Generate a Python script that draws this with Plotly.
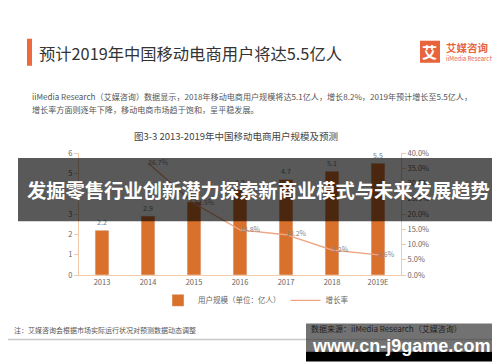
import plotly.graph_objects as go

years = ["2013", "2014", "2015", "2016", "2017", "2018", "2019E"]
users = [2.2, 2.9, 3.6, 4.2, 4.7, 5.1, 5.5]
growth_years = ["2014", "2015", "2016", "2017", "2018", "2019E"]
growth = [36.7, 23.5, 14.8, 13.2, 8.2, 6.6]
growth_labels = ["36.7%", "23.5%", "14.8%", "13.2%", "8.2%", "6.6%"]

FONT = "Noto Sans CJK SC"
BAR = "#d9712c"
LINE = "#eea582"
AX = "#f3c9a8"

W, H = 500, 362
L, R, T, B = 71, 393, 145, 266.7
PW, PH = R - L, B - T


def X(px):
    return (px - L) / PW


def Y(py):
    return (B - py) / PH


fig = go.Figure()
fig.add_trace(go.Bar(
    x=years, y=users, name="用户规模（单位：亿人）", marker_color=BAR,
    text=[f"{v}" for v in users], textposition="outside", cliponaxis=False,
    textfont=dict(size=7, color="#777", family=FONT), yaxis="y"))
fig.add_trace(go.Scatter(
    x=growth_years, y=growth, name="增长率", mode="lines+text",
    line=dict(color=LINE, width=1.3), text=growth_labels,
    textposition="middle right", cliponaxis=False,
    textfont=dict(size=7, color="#888", family=FONT), yaxis="y2"))

shapes = []
annotations = []

# title accent bar
shapes.append(dict(type="rect", xref="paper", yref="paper", x0=X(19), x1=X(24), y0=Y(31), y1=Y(58),
                   fillcolor="#ec6a3c", line_width=0, layer="above"))
annotations.append(dict(xref="paper", yref="paper", x=X(29), y=Y(45), xanchor="left", yanchor="middle",
                        text="预计2019年中国移动电商用户将达5.5亿人", showarrow=False,
                        font=dict(size=16.3, color="#333", family=FONT)))
# logo
shapes.append(dict(type="rect", xref="paper", yref="paper", x0=X(412), x1=X(432), y0=Y(33), y1=Y(55),
                   fillcolor="#e8643c", line_width=0, layer="above"))
annotations.append(dict(xref="paper", yref="paper", x=X(422), y=Y(44), xanchor="center", yanchor="middle",
                        text="<b>艾</b>", showarrow=False, font=dict(size=15, color="white", family=FONT)))
annotations.append(dict(xref="paper", yref="paper", x=X(436), y=Y(40), xanchor="left", yanchor="middle",
                        text="<b>艾媒咨询</b>", showarrow=False, font=dict(size=10.5, color="#e8643c", family=FONT)))
annotations.append(dict(xref="paper", yref="paper", x=X(436), y=Y(51), xanchor="left", yanchor="middle",
                        text="iiMedia Research", showarrow=False, font=dict(size=6, color="#e8643c", family=FONT)))
# paragraph
annotations.append(dict(xref="paper", yref="paper", x=X(22), y=Y(89), xanchor="left", yanchor="middle",
                        text="iiMedia Research（艾媒咨询）数据显示，2018年移动电商用户规模将达5.1亿人，增长8.2%，2019年预计增长至5.5亿人，",
                        showarrow=False, font=dict(size=8.1, color="#555", family=FONT)))
annotations.append(dict(xref="paper", yref="paper", x=X(22), y=Y(101.5), xanchor="left", yanchor="middle",
                        text="增长率方面则逐年下降，移动电商市场趋于饱和，呈平稳发展。",
                        showarrow=False, font=dict(size=8.1, color="#555", family=FONT)))
# chart title
annotations.append(dict(xref="paper", yref="paper", x=X(228), y=Y(128), xanchor="center", yanchor="middle",
                        text="图3-3 2013-2019年中国移动电商用户规模及预测",
                        showarrow=False, font=dict(size=9.5, color="#444", family=FONT)))
# note
annotations.append(dict(xref="paper", yref="paper", x=X(4), y=Y(322), xanchor="left", yanchor="middle",
                        text="注：艾媒咨询会根据市场实际运行状况对预测数据动态调整",
                        showarrow=False, font=dict(size=7, color="#555", family=FONT)))
# separator line
shapes.append(dict(type="line", xref="paper", yref="paper", x0=X(0), x1=X(500), y0=Y(331), y1=Y(331),
                   line=dict(color="#c8c8c8", width=1.5), layer="above"))
annotations.append(dict(xref="paper", yref="paper", x=X(494), y=Y(337), xanchor="right", yanchor="middle",
                        text="h Inc", showarrow=False, font=dict(size=5.5, color="#999", family=FONT)))
# banner
shapes.append(dict(type="rect", xref="paper", yref="paper", x0=X(10), x1=X(491), y0=Y(150), y1=Y(213),
                   fillcolor="rgba(0,0,0,0.65)", line_width=0, layer="above"))
annotations.append(dict(xref="paper", yref="paper", x=X(250.5), y=Y(182), xanchor="center", yanchor="middle",
                        text="<b>发掘零售行业创新潜力探索新商业模式与未来发展趋势</b>",
                        showarrow=False, font=dict(size=19.3, color="white", family=FONT)))
# watermark box
shapes.append(dict(type="rect", xref="paper", yref="paper", x0=X(298), x1=X(491), y0=Y(315), y1=Y(343),
                   fillcolor="rgba(60,60,60,0.72)", line_width=0, layer="above"))
shapes.append(dict(type="rect", xref="paper", yref="paper", x0=X(298), x1=X(491), y0=Y(343), y1=Y(353),
                   fillcolor="black", line_width=0, layer="above"))
annotations.append(dict(xref="paper", yref="paper", x=X(301), y=Y(320), xanchor="left", yanchor="middle",
                        text="数据来源：iiMedia Research（艾媒咨询）",
                        showarrow=False, font=dict(size=8, color="#222", family=FONT)))
annotations.append(dict(xref="paper", yref="paper", x=X(393), y=Y(338), xanchor="center", yanchor="middle",
                        text="<b>www.cn-j9game.com</b>",
                        showarrow=False, font=dict(size=18, color="white", family="Liberation Sans")))

fig.update_layout(
    width=W, height=H, margin=dict(l=L, r=W - R, t=T, b=H - B, pad=0),
    paper_bgcolor="white", plot_bgcolor="white",
    bargap=0.7, showlegend=True,
    legend=dict(orientation="h", x=X(150), y=Y(292), xanchor="left", yanchor="middle",
                font=dict(size=7.5, color="#666", family=FONT), itemwidth=30, tracegroupgap=0,
                bgcolor="rgba(0,0,0,0)"),
    xaxis=dict(type="category", showline=True, linecolor=AX, linewidth=1, ticks="",
               tickfont=dict(size=7.5, color="#666", family=FONT), showgrid=False),
    yaxis=dict(range=[0, 6], dtick=1, showline=True, linecolor=AX, linewidth=1, ticks="outside",
               ticklen=4, tickcolor=AX, showgrid=False, zeroline=False,
               tickfont=dict(size=7.5, color="#666", family=FONT)),
    yaxis2=dict(range=[0, 40], dtick=5, overlaying="y", side="right", showline=True, linecolor=AX,
                linewidth=1, ticks="outside", ticklen=4, tickcolor=AX, showgrid=False, zeroline=False,
                ticksuffix="%", tickformat=".1f",
                tickfont=dict(size=7.5, color="#666", family=FONT)),
    shapes=shapes, annotations=annotations,
)

fig.write_html("out.html")
